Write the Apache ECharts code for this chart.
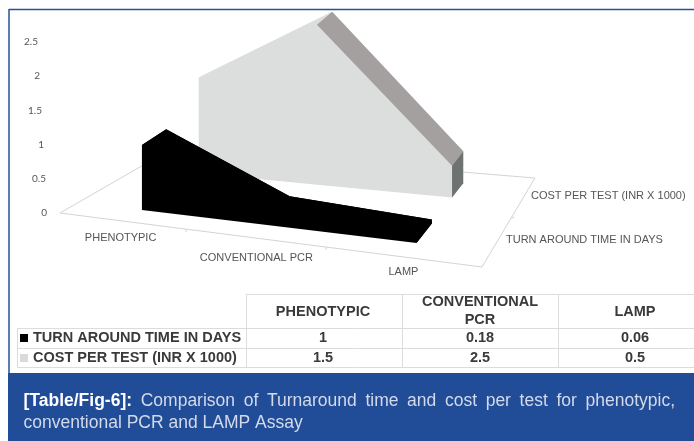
<!DOCTYPE html>
<html>
<head>
<meta charset="utf-8">
<title>Table/Fig-6</title>
<script src="https://cdn.jsdelivr.net/npm/echarts@6/dist/echarts.min.js"></script>
<style>
html, body { margin: 0; padding: 0; background: #fff; }
#main { width: 694px; height: 441px; }
</style>
</head>
<body>
<div id="main"></div>
<script>
let categories = ['PHENOTYPIC', 'CONVENTIONAL PCR', 'LAMP'];
let headerLines = [['PHENOTYPIC'], ['CONVENTIONAL', 'PCR'], ['LAMP']];
let seriesNames = ['TURN AROUND TIME IN DAYS', 'COST PER TEST (INR X 1000)'];
let turnAround = [1, 0.18, 0.06];
let costPerTest = [1.5, 2.5, 0.5];
let yTicks = [0, 0.5, 1, 1.5, 2, 2.5];

let myChart = echarts.init(document.getElementById('main'), null, { renderer: 'canvas' });

let gridLeft = 48, gridWidth = 434, gridTop = 42, gridBottomY = 213;
let font = '"Liberation Sans", Arial, sans-serif';

// floor plane: unit square -> picture, fitted on the four floor corners
let hA = 323.8, hB = 146.8, hC = 60, hD = -0.4, hE = -36, hF = 213, hG = -0.2037, hH = 0.1956;
function floorPoint(u, v) {
    let w = 1 + hG * u + hH * v;
    return [(hA * u + hB * v + hC) / w, (hD * u + hE * v + hF) / w];
}

// takes the pixel from the flat grid and stands it up at depth v
function project(pt, v, scale) {
    let t = (pt[0] - gridLeft) / gridWidth;
    let u = 0.0188 + 0.9975 * t;
    let p = floorPoint(u, v);
    return [p[0], p[1] - (gridBottomY - pt[1]) * scale];
}

function poly(points, color) {
    return { type: 'polygon', shape: { points: points }, style: { fill: color } };
}

// whole wall is drawn once, on the first data item, so the faces can share one backing shape
function wallSeries(name, values, vFront, vBack, scale, colors) {
    function front(pt) { return project(pt, vFront, scale); }
    function back(pt) { return project(pt, vBack, scale); }
    return {
        name: name,
        type: 'custom',
        coordinateSystem: 'cartesian2d',
        clip: false,
        data: values.map(function (val, i) { return [i, val]; }),
        renderItem: function (params, api) {
            if (params.dataIndex !== 0) {
                return;
            }
            let tops = values.map(function (val, i) { return api.coord([i, val]); });
            let bases = values.map(function (val, i) { return api.coord([i, 0]); });
            let last = values.length - 1;
            let children = [];

            let backing = [front(bases[0]), front(tops[0])];
            tops.forEach(function (top, i) {
                if (i > 0 || values[1] < values[0]) {
                    backing.push(back(top));
                }
            });
            backing.push(back(bases[last]));
            bases.slice().reverse().forEach(function (b) { backing.push(front(b)); });
            children.push(poly(backing, colors.front));

            for (let i = 0; i < last; i++) {
                if (values[i + 1] > values[i]) {
                    // rising stretch is seen almost edge on
                    children.push(poly([front(tops[i]), front(tops[i + 1]), back(tops[i + 1])], colors.rise));
                } else {
                    children.push(poly([front(tops[i]), front(tops[i + 1]), back(tops[i + 1]), back(tops[i])], colors.fall));
                }
            }
            children.push(poly([front(bases[last]), front(tops[last]), back(tops[last]), back(bases[last])], colors.cap));
            return { type: 'group', children: children };
        }
    };
}

function floorLine(a, b) {
    return {
        type: 'line',
        shape: { x1: a[0], y1: a[1], x2: b[0], y2: b[1] },
        style: { stroke: '#d4d4d4', lineWidth: 1 }
    };
}

// floor outline and ticks
let floorSeries = {
    type: 'custom',
    coordinateSystem: 'cartesian2d',
    clip: false,
    silent: true,
    data: [[0, 0]],
    renderItem: function () {
        let children = [
            floorLine(floorPoint(0, 0), floorPoint(1, 0)),
            floorLine(floorPoint(1, 0), floorPoint(1, 1)),
            floorLine(floorPoint(1, 1), floorPoint(0, 1)),
            floorLine(floorPoint(0, 1), floorPoint(0, 0))
        ];
        [1 / 3, 2 / 3].forEach(function (u) {
            let p = floorPoint(u + 0.015, 0);
            children.push(floorLine(p, [p[0], p[1] + 3]));
        });
        let s = floorPoint(1, 0.5);
        children.push(floorLine(s, [s[0] + 3, s[1]]));
        return { type: 'group', children: children };
    }
};

let catShift = [[-4, 17], [2, 20], [-2, 15]];
let categorySeries = {
    type: 'custom',
    coordinateSystem: 'cartesian2d',
    clip: false,
    silent: true,
    data: categories.map(function (c, i) { return [i, 0]; }),
    renderItem: function (params, api) {
        let i = params.dataIndex;
        let p = project(api.coord([i, 0]), 0, 1);
        return {
            type: 'text',
            style: {
                x: p[0] + catShift[i][0], y: p[1] + catShift[i][1], text: categories[i],
                fill: '#555', font: '11px ' + font, align: 'center', verticalAlign: 'middle'
            }
        };
    }
};

// table, frame and caption are plain graphics
let gfx = [];
function addLine(x1, y1, x2, y2, color, width) {
    gfx.push({ type: 'line', silent: true, shape: { x1: x1, y1: y1, x2: x2, y2: y2 }, style: { stroke: color, lineWidth: width } });
}
function addText(x, y, text, size, weight, color, align) {
    gfx.push({
        type: 'text', silent: true,
        style: { x: x, y: y, text: text, fill: color, font: weight + ' ' + size + 'px ' + font, align: align || 'center', verticalAlign: 'middle' }
    });
}

addLine(9, 9.5, 694, 9.5, '#2a4f9b', 1.5);
addLine(9, 9, 9, 374, '#2a4f9b', 1.5);

let colX = [246, 402, 558, 694];
let colCenter = [323, 480, 635];
addLine(246, 294.5, 694, 294.5, '#dcdcdc', 1);
addLine(17, 328.5, 694, 328.5, '#dcdcdc', 1);
addLine(17, 348.5, 694, 348.5, '#dcdcdc', 1);
addLine(17, 367.5, 694, 367.5, '#dcdcdc', 1);
addLine(17.5, 328, 17.5, 368, '#dcdcdc', 1);
colX.slice(0, 3).forEach(function (x) { addLine(x + 0.5, 294, x + 0.5, 368, '#dcdcdc', 1); });

headerLines.forEach(function (lines, i) {
    lines.forEach(function (t, k) {
        addText(colCenter[i], lines.length > 1 ? 302 + k * 18 : 312, t, 14.5, 'bold', '#3a3a3a');
    });
});
let rowY = [338, 358];
let rowValues = [turnAround, costPerTest];
let swatch = ['#000', '#d9dbda'];
seriesNames.forEach(function (name, r) {
    gfx.push({ type: 'rect', silent: true, shape: { x: 20, y: rowY[r] - 4, width: 8, height: 8 }, style: { fill: swatch[r] } });
    addText(33, rowY[r], name, 14.5, 'bold', '#3a3a3a', 'left');
    rowValues[r].forEach(function (val, i) {
        addText(colCenter[i], rowY[r], String(val), 14.5, 'bold', '#3a3a3a');
    });
});

gfx.push({ type: 'rect', silent: true, shape: { x: 8, y: 373, width: 686, height: 68 }, style: { fill: '#214c98' } });

// first caption line is justified, so the words are placed one by one
let measure = document.createElement('canvas').getContext('2d');
let capWords = [['[Table/Fig-6]:', 'bold'], ['Comparison', 'normal'], ['of', 'normal'], ['Turnaround', 'normal'], ['time', 'normal'],
    ['and', 'normal'], ['cost', 'normal'], ['per', 'normal'], ['test', 'normal'], ['for', 'normal'], ['phenotypic,', 'normal']];
let capSize = 17.5, capLeft = 23.5, capRight = 675;
let used = 0;
capWords.forEach(function (w) {
    measure.font = w[1] + ' ' + capSize + 'px ' + font;
    w.push(measure.measureText(w[0]).width);
    used += w[2];
});
let gap = (capRight - capLeft - used) / (capWords.length - 1);
let cx = capLeft;
capWords.forEach(function (w) {
    addText(cx, 401, w[0], capSize, w[1], w[1] === 'bold' ? '#fff' : '#d3daea', 'left');
    cx += w[2] + gap;
});
addText(capLeft, 423, 'conventional PCR and LAMP Assay', capSize, 'normal', '#d3daea', 'left');

addText(531, 196, seriesNames[1], 11, 'normal', '#555', 'left');
addText(506, 240, seriesNames[0], 11, 'normal', '#555', 'left');

let labelRich = {};
let labelPad = [0, 1, 3, 5, 7, 9];
yTicks.forEach(function (t, i) {
    labelRich['t' + i] = { padding: [0, labelPad[i], 0, 0], color: '#555', fontSize: 10, fontFamily: 'Lato, "Open Sans", sans-serif' };
});

let option = {
    backgroundColor: '#fff',
    animation: false,
    grid: { left: gridLeft, top: gridTop, width: gridWidth, height: gridBottomY - gridTop },
    xAxis: {
        type: 'category',
        data: categories,
        axisLine: { show: false },
        axisTick: { show: false },
        axisLabel: { show: false }
    },
    yAxis: {
        type: 'value',
        min: 0,
        max: 2.5,
        interval: 0.5,
        splitLine: { show: false },
        axisLine: { show: false },
        axisTick: { show: false },
        axisLabel: {
            margin: 1,
            rich: labelRich,
            formatter: function (val) {
                return '{t' + yTicks.indexOf(val) + '|' + val + '}';
            }
        }
    },
    graphic: gfx,
    series: [
        floorSeries,
        categorySeries,
        wallSeries(seriesNames[1], costPerTest, 0.66, 0.85, 0.935, { front: '#dcdedd', rise: '#dcdedd', fall: '#a3a09f', cap: '#6e7271' }),
        wallSeries(seriesNames[0], turnAround, 0.14, 0.35, 0.95, { front: '#000', rise: '#000', fall: '#000', cap: '#000' })
    ]
};
myChart.setOption(option);
</script>
</body>
</html>
